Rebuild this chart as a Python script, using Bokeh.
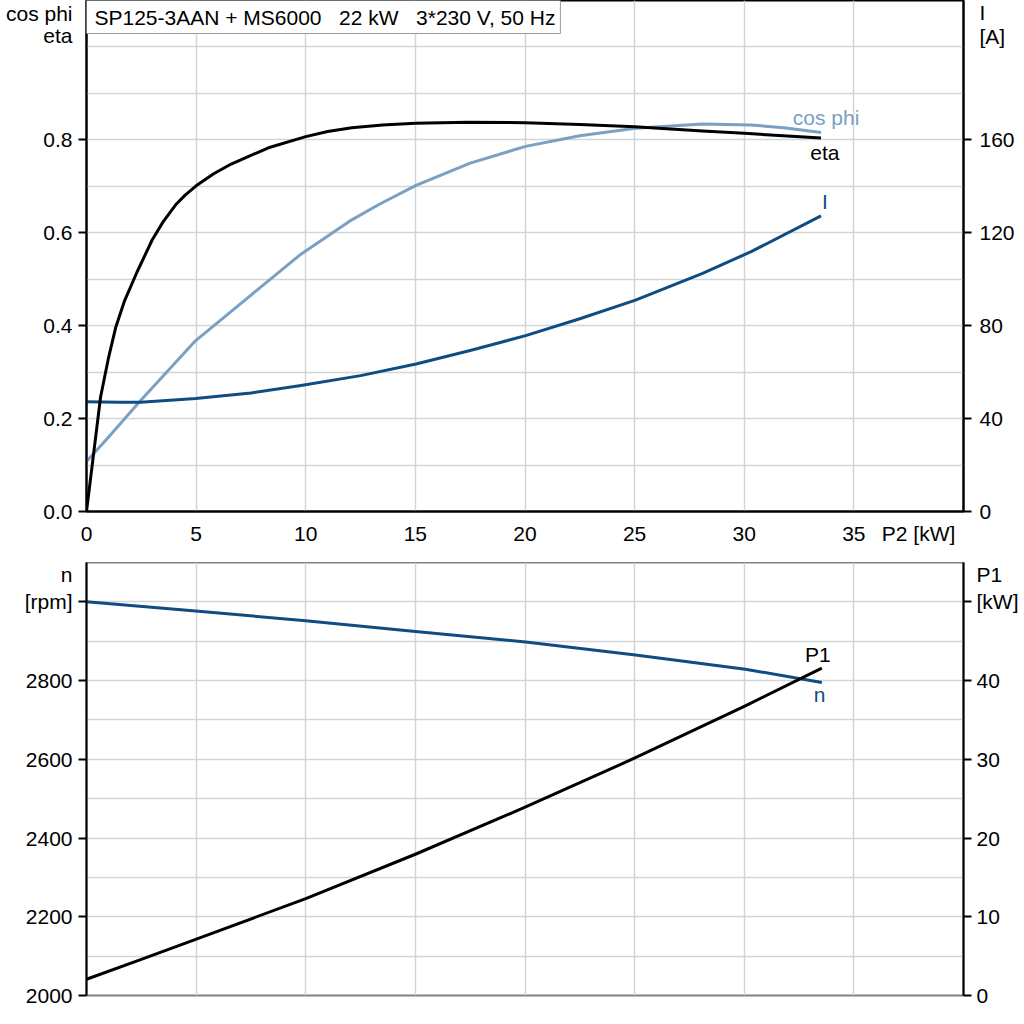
from bokeh.plotting import figure
from bokeh.models import Range1d, LinearAxis, FixedTicker, Label
from bokeh.layouts import column
from bokeh.embed import file_html
from bokeh.resources import INLINE

FONT = "Liberation Sans"

# ---------------- data ----------------
eta_p2 = [0, 0.3, 0.64, 1.0, 1.33, 1.74, 2.3, 3.0, 3.5, 4.1, 4.5, 5.0, 5.8, 6.6, 8.3,
          10.0, 11.0, 12.1, 13.5, 15.0, 17.4, 20.0, 22.5, 25.0, 28.1, 30.0, 33.5]
eta = [0.0, 0.115, 0.246, 0.33, 0.396, 0.454, 0.515, 0.585, 0.624, 0.662, 0.681,
       0.701, 0.727, 0.748, 0.783, 0.807, 0.818, 0.826, 0.832, 0.836, 0.838, 0.837,
       0.833, 0.828, 0.819, 0.814, 0.804]

cos_p2 = [0, 1.0, 2.47, 4.98, 7.2, 9.78, 12.0, 13.38, 15.03, 17.5, 20.03, 22.5,
          25.04, 28.1, 30.3, 31.8, 33.5]
cos_phi = [0.1075, 0.16, 0.239, 0.368, 0.454, 0.554, 0.625, 0.662, 0.702, 0.750,
           0.786, 0.809, 0.825, 0.834, 0.832, 0.826, 0.816]

i_p2 = [0, 1.5, 2.47, 4.98, 7.5, 9.78, 12.5, 15.03, 17.5, 20.03, 22.5, 25.04,
        28.1, 30.34, 33.5]
current = [47.3, 47.0, 47.0, 48.7, 51.0, 54.2, 58.5, 63.5, 69.3, 75.7, 83.0, 91.0,
           102.5, 112.0, 127.3]

n_p2 = [0, 4.98, 10.0, 15.0, 20.03, 25.04, 30.05, 33.54]
speed = [3000, 2977, 2952, 2925, 2898, 2865, 2829, 2795]

p1_p2 = [0, 2.5, 4.98, 10.0, 15.0, 20.03, 25.04, 30.05, 33.54]
p1 = [2.06, 4.6, 7.14, 12.3, 17.94, 23.95, 30.2, 36.8, 41.58]

x_ticks = [0, 5, 10, 15, 20, 25, 30, 35]
x_grid = [0, 5, 10, 15, 20, 25, 30, 35, 40]
eta_ticks = [0.0, 0.2, 0.4, 0.6, 0.8]
eta_grid = [0.0, 0.1, 0.2, 0.3, 0.4, 0.5, 0.6, 0.7, 0.8, 0.9, 1.0]
i_ticks = [0, 40, 80, 120, 160]
n_ticks = [2000, 2200, 2400, 2600, 2800, 3000]
n_grid = [2000, 2100, 2200, 2300, 2400, 2500, 2600, 2700, 2800, 2900, 3000]
p1_ticks = [0, 10, 20, 30, 40, 50]

title_text = "SP125-3AAN + MS6000\u00a0\u00a0 22 kW\u00a0\u00a0 3*230 V, 50 Hz"

# axis names, placed as extra (unmarked) tick labels at these axis positions
x_name = {37.95: "P2 [kW]"}
eta_names = {1.071: "cos phi", 1.024: "eta"}
i_names = {215.0: "I", 204.7: "[A]"}
n_names = {3000: "[rpm]", 3069: "n"}
p1_names = {50: "[kW]", 53.45: "P1"}

COS_COLOR = "#7aa0c4"
DARK = "#0f4c81"
GRID = "#d2d5d8"


def style_axis(ax, ticks, names, fmt, marks=None, standoff=6):
    major = list(ticks) + list(names.keys())
    ax.ticker = FixedTicker(ticks=major, minor_ticks=list(marks) if marks else [])
    labels = {t: fmt(t) for t in ticks}
    labels.update(names)
    ax.major_label_overrides = labels
    ax.axis_line_color = "black"
    ax.axis_line_width = 2
    ax.major_tick_line_color = None
    ax.major_tick_out = 0
    ax.major_tick_in = 0
    ax.minor_tick_line_color = "black" if marks else None
    ax.minor_tick_line_width = 2
    ax.minor_tick_out = 8 if marks else 0
    ax.minor_tick_in = 0
    ax.major_label_text_font = FONT
    ax.major_label_text_font_size = "21px"
    ax.major_label_text_color = "black"
    ax.major_label_standoff = standoff


def add_text(p, x, y, text, color="black", size="21px", y_range_name="default"):
    p.add_layout(Label(x=x, y=y, text=text, text_color=color, text_font=FONT,
                       text_font_size=size, text_align="center",
                       text_baseline="middle", y_range_name=y_range_name))


# ---------------- top panel ----------------
top = figure(frame_width=877, frame_height=511,
             x_range=Range1d(0, 40), y_range=Range1d(0, 1.1),
             output_backend="svg", toolbar_location=None,
             min_border_left=86, min_border_right=56,
             min_border_top=0, min_border_bottom=51,
             background_fill_color="white", border_fill_color="white",
             outline_line_color="black", outline_line_width=2)
top.extra_y_ranges = {"I": Range1d(0, 220)}
top.add_layout(LinearAxis(y_range_name="I"), "right")

style_axis(top.xaxis[0], x_ticks, x_name, lambda t: str(t), standoff=10)
style_axis(top.yaxis[0], eta_ticks, eta_names, lambda t: "%.1f" % t,
           marks=eta_ticks, standoff=6)
style_axis(top.yaxis[1], i_ticks, i_names, lambda t: str(t), marks=i_ticks, standoff=8)

top.xgrid.ticker = FixedTicker(ticks=x_grid)
top.ygrid.ticker = FixedTicker(ticks=eta_grid)
for g in (top.xgrid[0], top.ygrid[0]):
    g.grid_line_color = GRID
    g.grid_line_width = 1.5

top.line(cos_p2, cos_phi, line_color=COS_COLOR, line_width=3, line_join="round")
top.line(i_p2, current, line_color=DARK, line_width=3, line_join="round",
         y_range_name="I")
top.line(eta_p2, eta, line_color="black", line_width=3, line_join="round")

# curve labels
add_text(top, cos_p2[-1] + 0.23, cos_phi[-1] + 0.033, "cos phi", color=COS_COLOR)
add_text(top, eta_p2[-1] + 0.18, eta[-1] - 0.032, "eta")
add_text(top, i_p2[-1] + 0.18, current[-1] + 6.2, "I", color=DARK, y_range_name="I")

# title box
top.add_layout(Label(x=0, y=1.1, text=title_text, text_align="left",
                     text_baseline="top", text_font=FONT, text_font_size="21px",
                     text_color="black", background_fill_color="white",
                     border_line_color="#9a9a9a", border_line_width=1,
                     padding=dict(left=8, right=5, top=5, bottom=5)))

# ---------------- bottom panel ----------------
bot = figure(frame_width=877, frame_height=433,
             x_range=Range1d(0, 40), y_range=Range1d(2000, 3100),
             x_axis_location=None,
             output_backend="svg", toolbar_location=None,
             min_border_left=86, min_border_right=56,
             min_border_top=0, min_border_bottom=14,
             background_fill_color="white", border_fill_color="white",
             outline_line_color="#808080", outline_line_width=2)
bot.extra_y_ranges = {"P1": Range1d(0, 55)}
bot.add_layout(LinearAxis(y_range_name="P1"), "right")

style_axis(bot.yaxis[0], n_ticks[:-1], n_names, lambda t: str(t),
           marks=n_ticks, standoff=6)
style_axis(bot.yaxis[1], p1_ticks[:-1], p1_names, lambda t: str(t),
           marks=p1_ticks, standoff=5)

bot.xgrid.ticker = FixedTicker(ticks=x_grid)
bot.ygrid.ticker = FixedTicker(ticks=n_grid)
for g in (bot.xgrid[0], bot.ygrid[0]):
    g.grid_line_color = GRID
    g.grid_line_width = 1.5

bot.line(n_p2, speed, line_color=DARK, line_width=3, line_join="round")
bot.line(p1_p2, p1, line_color="black", line_width=3, line_join="round",
         y_range_name="P1")

add_text(bot, p1_p2[-1] - 0.18, p1[-1] + 1.7, "P1", y_range_name="P1")
add_text(bot, n_p2[-1] - 0.1, speed[-1] - 31, "n", color=DARK)

layout = column(top, bot)

with open("out.html", "w") as f:
    f.write(file_html(layout, INLINE))
